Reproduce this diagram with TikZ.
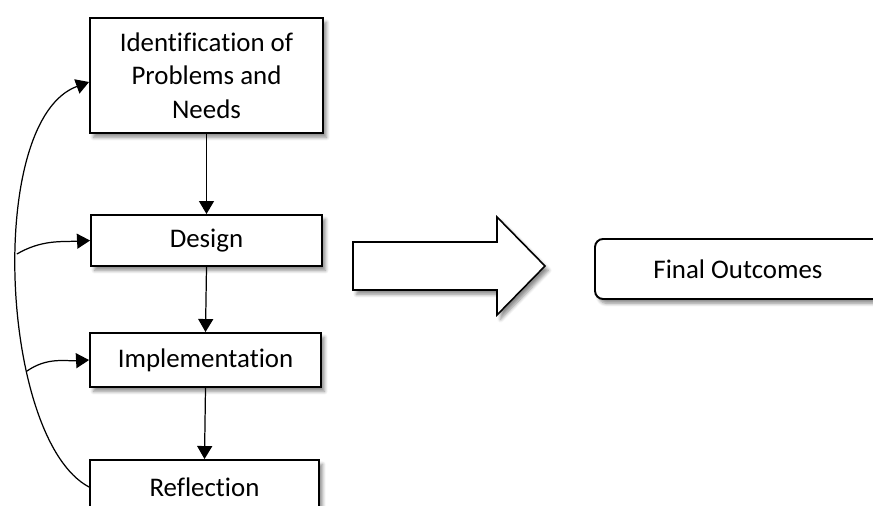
\documentclass[tikz,border=0pt]{standalone}
\usepackage{fontspec}
\setmainfont{Carlito}[Ligatures=NoCommon]
\usetikzlibrary{arrows.meta, positioning, calc, shadows.blur}

\begin{document}
\begin{tikzpicture}[
    x=0.02cm, y=-0.02cm,
    stage_box/.style={
        draw=black,
        line width=1.1pt,
        fill=white,
        align=center,
        font=\fontsize{15.3pt}{19pt}\selectfont,
        blur shadow={shadow xshift=2pt, shadow yshift=-2.5pt, shadow blur steps=6, shadow opacity=45}
    },
    flow_arrow/.style={
        -{Triangle[length=0.26cm, width=0.3cm]},
        line width=0.7pt,
        color=black
    }
]

\clip (0,0) rectangle (873,506);

% =========================
% CYCLE
% =========================
\node[stage_box, minimum width=4.66cm, minimum height=2.30cm] (ident)
    at (206.5,75.5) {Identification of\\Problems and\\Needs};
\node[stage_box, minimum width=4.62cm, minimum height=1.02cm] (design)
    at (206.5,240.5) {Design};
\node[stage_box, minimum width=4.62cm, minimum height=1.08cm] (impl)
    at (205.5,360) {Implementation};
\node[stage_box, minimum width=4.58cm, minimum height=1.08cm] (refl)
    at (204.5,487) {Reflection};

\draw[flow_arrow] (ident.south) -- (design.north);
\draw[flow_arrow] (design.south) -- (impl.north);
\draw[flow_arrow] (impl.south) -- (refl.north);

% feedback loop
\draw[flow_arrow] (refl.west) .. controls (0,440) and (-15,120) ..
    ([yshift=-0.13cm]ident.west)
    coordinate[pos=0.33] (back_impl)
    coordinate[pos=0.55] (back_design);
\draw[flow_arrow] (back_design) to[out=30, in=183] (design.west);
\draw[flow_arrow] (back_impl) to[out=35, in=183] (impl.west);

% =========================
% OUTCOME
% =========================
\draw[line width=0.9pt, fill=white,
    blur shadow={shadow xshift=2pt, shadow yshift=-2.5pt, shadow blur steps=6, shadow opacity=45}]
    (353,242) -- (497,242) -- (497,217) -- (545,266) -- (497,315)
    -- (497,290) -- (353,290) -- cycle;

\node[stage_box, rounded corners=0.16cm, minimum width=5.72cm, minimum height=1.2cm] (outcome)
    at (738,269) {Final Outcomes};

\end{tikzpicture}
\end{document}
